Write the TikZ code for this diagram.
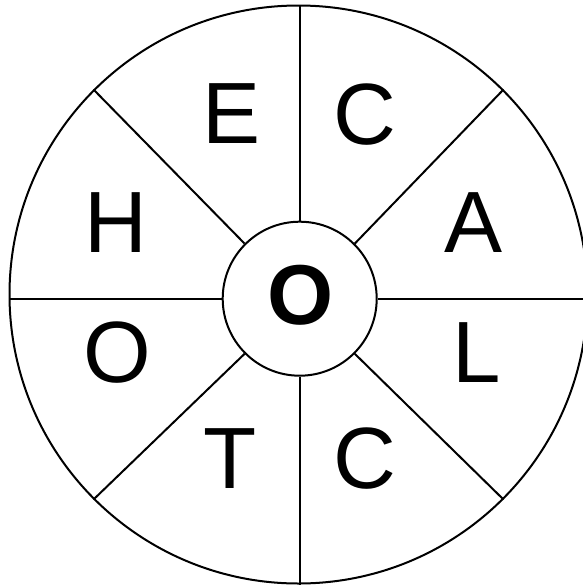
\documentclass[tikz,border=0pt]{standalone}
\usepackage{fontspec}
\setmainfont{Liberation Sans}
\begin{document}
\begin{tikzpicture}[x=1pt,y=-1pt,
  ring/.style={draw=black,line width=2pt,circle,inner sep=0pt},
  spoke/.style={draw=black,line width=2pt},
  letter/.style={inner sep=0pt,font=\fontsize{87}{87}\selectfont}]
\useasboundingbox (0,0) rectangle (583,587);
\node[ring,minimum size=578pt] (o) at (298.5,294.5) {};
\node[ring,minimum size=154pt,fill=white] (c) at (299.7,298.7) {};
\draw[spoke] (c.north) -- (c.north |- o.north);
\draw[spoke] (c.south) -- (c.south |- o.south);
\draw[spoke] (c.west) -- (c.west -| o.west);
\draw[spoke] (c.east) -- (c.east -| o.east);
\draw[spoke] (c.45) -- (o.45);
\draw[spoke] (c.135) -- (o.135);
\draw[spoke] (c.225) -- (o.225);
\draw[spoke] (c.315) -- (o.315);
\node[inner sep=0pt,font=\fontsize{85}{85}\selectfont\bfseries] (m) at (301,295) {O};
\node[letter] (e) at (231.5,114) {E};
\node[letter] (c1) at (365,114.5) {C};
\node[letter] (h) at (116,222.7) {H};
\node[letter] (a) at (474,222.7) {A};
\node[letter] (o2) at (117,353) {O};
\node[letter] (l) at (477,352.5) {L};
\node[letter] (t) at (229.7,459) {T};
\node[letter] (c2) at (365,459) {C};
\end{tikzpicture}
\end{document}
